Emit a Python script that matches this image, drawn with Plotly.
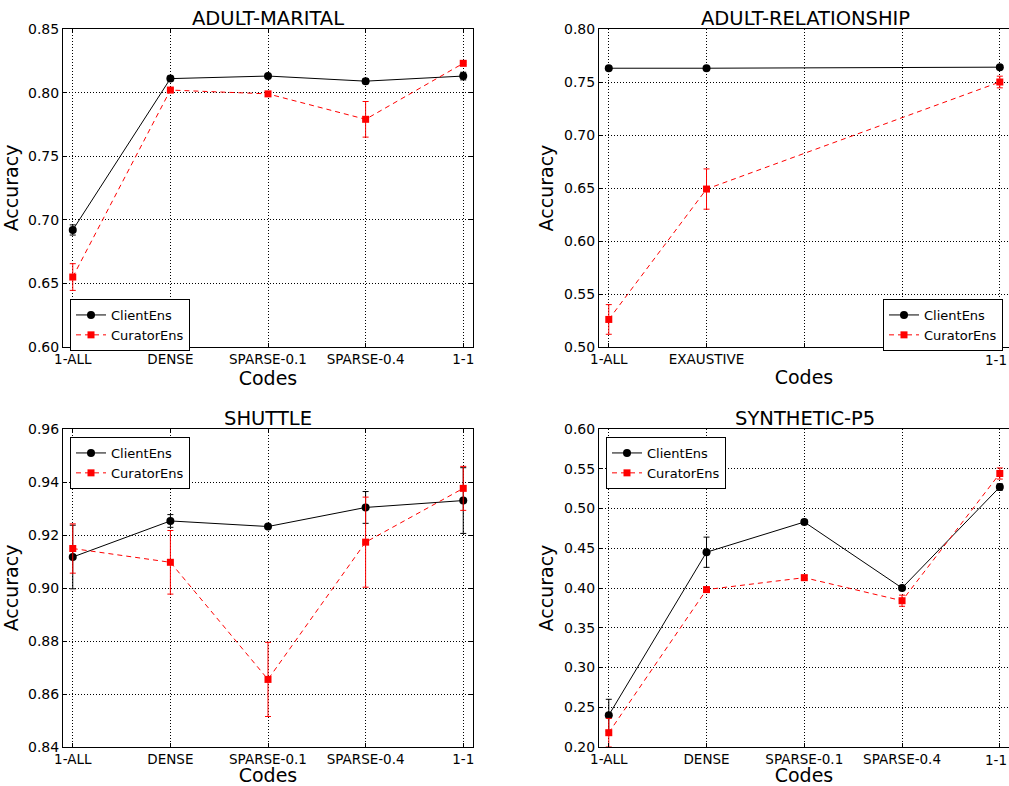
import plotly.graph_objects as go

# ---------------- data ----------------
codes5 = ["1-ALL", "DENSE", "SPARSE-0.1", "SPARSE-0.4", "1-1"]
x5 = [0, 1, 2, 3, 4]
rel_tick_text = ["1-ALL", "EXAUSTIVE", "", "", "1-1"]
rel_x = [0, 1, 4]

marital_client = [0.692, 0.811, 0.813, 0.809, 0.813]
marital_client_err = [0.004, 0.002, 0.002, 0.002, 0.003]
marital_curator = [0.655, 0.802, 0.799, 0.779, 0.823]
marital_curator_err = [0.0105, 0.001, 0.001, 0.014, 0.001]

rel_client = [0.763, 0.763, 0.764]
rel_client_err = [0.001, 0.001, 0.001]
rel_curator = [0.526, 0.649, 0.750]
rel_curator_err = [0.014, 0.019, 0.0055]

shuttle_client = [0.9117, 0.9253, 0.9232, 0.9304, 0.9330]
shuttle_client_err = [0.012, 0.0024, 0.0005, 0.006, 0.0124]
shuttle_curator = [0.9149, 0.9097, 0.8655, 0.9173, 0.9376]
shuttle_curator_err = [0.0093, 0.012, 0.014, 0.017, 0.0083]

synth_client = [0.240, 0.445, 0.483, 0.400, 0.527]
synth_client_err = [0.020, 0.019, 0.003, 0.002, 0.004]
synth_curator = [0.218, 0.398, 0.413, 0.384, 0.544]
synth_curator_err = [0.018, 0.003, 0.003, 0.007, 0.007]

titles = ["ADULT-MARITAL", "ADULT-RELATIONSHIP", "SHUTTLE", "SYNTHETIC-P5"]
y_ranges = [[0.60, 0.85], [0.50, 0.80], [0.84, 0.96], [0.20, 0.60]]
y_dticks = [0.05, 0.05, 0.02, 0.05]

# ---------------- layout geometry ----------------
W, H = 1009, 786
FONT = "DejaVu Sans"
YTICK_SIZE = 14
XTICK_SIZE = 13.5

def px_x(p):
    return p / W

def px_y(p):
    return 1 - p / H

# left/right/top/bottom in pixels; panels 2 and 4 run past the image's right edge
panels = [
    dict(l=63, r=473, t=29, b=347, xr=[-0.1, 4.1]),
    dict(l=599, r=1009, t=29, b=347, xr=[-0.1, 4.094]),
    dict(l=63, r=473, t=429, b=747, xr=[-0.1, 4.1]),
    dict(l=599, r=1009, t=429, b=747, xr=[-0.1, 4.094]),
]

fig = go.Figure()

series = [
    (x5, marital_client, marital_client_err, x5, marital_curator, marital_curator_err),
    (rel_x, rel_client, rel_client_err, rel_x, rel_curator, rel_curator_err),
    (x5, shuttle_client, shuttle_client_err, x5, shuttle_curator, shuttle_curator_err),
    (x5, synth_client, synth_client_err, x5, synth_curator, synth_curator_err),
]

legend_names = ["legend", "legend2", "legend3", "legend4"]

for i, (xc, yc, ec, xk, yk, ek) in enumerate(series):
    ax = "" if i == 0 else str(i + 1)
    fig.add_trace(go.Scatter(
        x=xc, y=yc, mode="lines+markers", name="ClientEns",
        xaxis="x" + ax, yaxis="y" + ax, legend=legend_names[i],
        line=dict(color="black", width=1),
        marker=dict(symbol="circle", size=8, color="black"),
        error_y=dict(type="data", array=ec, color="black", thickness=1, width=3),
        cliponaxis=False,
    ))
    fig.add_trace(go.Scatter(
        x=xk, y=yk, mode="lines+markers", name="CuratorEns",
        xaxis="x" + ax, yaxis="y" + ax, legend=legend_names[i],
        line=dict(color="red", width=1, dash="5px,4px"),
        marker=dict(symbol="square", size=7, color="red"),
        error_y=dict(type="data", array=ek, color="red", thickness=1, width=3),
        cliponaxis=False,
    ))

layout = dict(
    width=W, height=H,
    margin=dict(l=0, r=0, t=0, b=0, autoexpand=False),
    paper_bgcolor="white", plot_bgcolor="white",
    font=dict(family=FONT, size=13, color="black"),
    showlegend=True,
)

annotations = []
for i, p in enumerate(panels):
    ax = "" if i == 0 else str(i + 1)
    edge_panel = i in (1, 3)
    ttext = rel_tick_text if i == 1 else codes5
    if edge_panel:
        # last label is drawn as an annotation so it stays inside the page
        ttext = list(ttext[:-1]) + [""]
    layout["xaxis" + ax] = dict(
        domain=[px_x(p["l"]), px_x(p["r"])],
        anchor="y" + ax,
        range=p["xr"],
        tickmode="array", tickvals=x5, ticktext=ttext,
        showgrid=True, gridcolor="black", gridwidth=0.6, griddash="1px,2px",
        showline=True, linecolor="black", linewidth=1,
        mirror=True if edge_panel else "ticks",
        ticks="inside", ticklen=4, tickcolor="black",
        tickfont=dict(size=XTICK_SIZE, family=FONT),
        zeroline=False, automargin=False,
        title=dict(text="Codes", font=dict(size=19, family=FONT), standoff=4),
    )
    layout["yaxis" + ax] = dict(
        domain=[px_y(p["b"]), px_y(p["t"])],
        anchor="x" + ax,
        range=y_ranges[i],
        dtick=y_dticks[i], tick0=0, tickformat=".2f",
        showgrid=True, gridcolor="black", gridwidth=0.6, griddash="1px,2px",
        showline=True, linecolor="black", linewidth=1,
        mirror=False if edge_panel else "ticks",
        ticks="inside", ticklen=4, tickcolor="black",
        tickfont=dict(size=YTICK_SIZE, family=FONT),
        zeroline=False, automargin=False,
        title=dict(text="Accuracy", font=dict(size=19, family=FONT), standoff=5),
    )
    if edge_panel:
        annotations.append(dict(
            text=codes5[-1], xref="paper", yref="paper",
            x=1.0, y=px_y(p["b"] + 3), xanchor="right", yanchor="top",
            showarrow=False, font=dict(size=XTICK_SIZE, family=FONT, color="black"),
        ))
    full_r = 1011 if edge_panel else p["r"]
    annotations.append(dict(
        text=titles[i], xref="paper", yref="paper",
        x=px_x((p["l"] + full_r) / 2), y=px_y(p["t"] - 11),
        xanchor="center", yanchor="middle", showarrow=False,
        font=dict(size=19.5, family=FONT, color="black"),
    ))

layout["annotations"] = annotations

legend_common = dict(
    bgcolor="white", bordercolor="black", borderwidth=1,
    font=dict(size=13, family=FONT), tracegroupgap=0, itemwidth=30,
)
layout["legend"] = dict(legend_common, x=px_x(70), y=px_y(299), xanchor="left", yanchor="top")
layout["legend2"] = dict(legend_common, x=px_x(1003), y=px_y(299), xanchor="right", yanchor="top")
layout["legend3"] = dict(legend_common, x=px_x(70), y=px_y(437), xanchor="left", yanchor="top")
layout["legend4"] = dict(legend_common, x=px_x(606), y=px_y(437), xanchor="left", yanchor="top")

fig.update_layout(**layout)
fig.write_html("out.html")
